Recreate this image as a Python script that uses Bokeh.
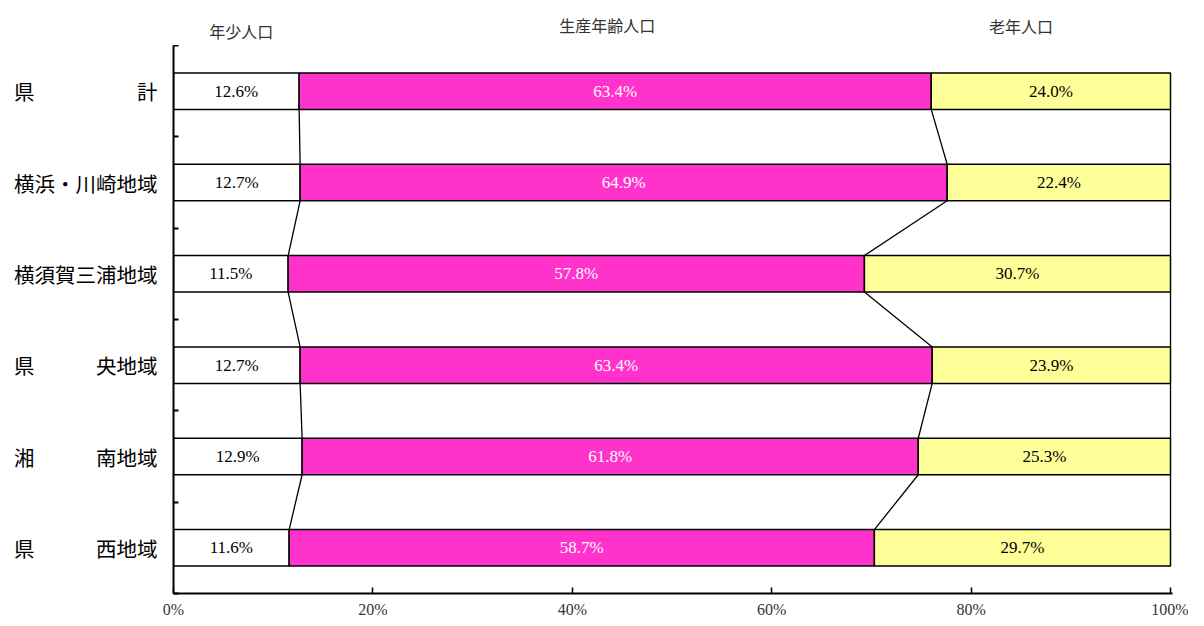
from bokeh.plotting import figure
from bokeh.models import Range1d, FixedTicker, ColumnDataSource
from bokeh.layouts import column
from bokeh.core.properties import value
from bokeh.embed import file_html
from bokeh.resources import INLINE

categories = ["県　　　　　計", "横浜・川崎地域", "横須賀三浦地域",
              "県　　　央地域", "湘　　　南地域", "県　　　西地域"]
series_names = ["年少人口", "生産年齢人口", "老年人口"]
young = [12.6, 12.7, 11.5, 12.7, 12.9, 11.6]
working = [63.4, 64.9, 57.8, 63.4, 61.8, 58.7]
old = [24.0, 22.4, 30.7, 23.9, 25.3, 29.7]
x_ticks = [0, 20, 40, 60, 80, 100]
x_tick_labels = ["0%", "20%", "40%", "60%", "80%", "100%"]

colors = ["#FFFFFF", "#FF33CC", "#FFFF99"]
text_colors = ["#000000", "#FFFFFF", "#000000"]
bar_h = 0.40

W = 1188
LEFT = 173
RIGHT = 16
n = len(categories)
ypos = [n - 1 - i for i in range(n)]
xr = Range1d(0, 100.2)

# header strip with the series names
hdr = figure(width=W, height=45, output_backend="svg", toolbar_location=None,
             x_range=xr, y_range=Range1d(0, 45),
             min_border_left=LEFT, min_border_right=RIGHT, min_border_top=0, min_border_bottom=0)
hdr.outline_line_color = None
hdr.xaxis.visible = False
hdr.yaxis.visible = False
hdr.xgrid.visible = False
hdr.ygrid.visible = False
header_x = [6.8, 43.5, 85.0]
header_y = [15, 21, 20]
hdr.text(x=header_x, y=header_y, text=series_names, text_align="center",
         text_baseline="middle", text_font=value("Noto Sans CJK JP"),
         text_font_size="16px", text_color="#333333")

p = figure(width=W, height=575, output_backend="svg", toolbar_location=None,
           x_range=xr, y_range=Range1d(-0.5, n - 0.5),
           min_border_left=LEFT, min_border_right=RIGHT, min_border_top=0, min_border_bottom=25)
p.outline_line_color = None
p.xgrid.visible = False
p.ygrid.visible = False

series = [young, working, old]
cum_left = [0.0] * n
bounds = []
for k, vals in enumerate(series):
    left = list(cum_left)
    right = [l + v for l, v in zip(left, vals)]
    src = ColumnDataSource(dict(y=ypos, left=left, right=right,
                                mid=[(l + r) / 2 for l, r in zip(left, right)],
                                lab=[f"{v:.1f}%" for v in vals]))
    p.hbar(y="y", left="left", right="right", height=bar_h, source=src,
           fill_color=colors[k], line_color="#000000", line_width=1.5)
    p.text(x="mid", y="y", text="lab", source=src, text_align="center",
           text_baseline="middle", text_color=text_colors[k],
           text_font=value("Liberation Serif"), text_font_size="17px")
    bounds.append(right)
    cum_left = right

# connector lines between consecutive bars
x0s, y0s, x1s, y1s = [], [], [], []
for b in bounds:
    for i in range(n - 1):
        x0s.append(b[i]); y0s.append(ypos[i] - bar_h / 2)
        x1s.append(b[i + 1]); y1s.append(ypos[i + 1] + bar_h / 2)
p.segment(x0=x0s, y0=y0s, x1=x1s, y1=y1s, line_color="#000000", line_width=1.3)

# axes
yax = p.yaxis[0]
yax.ticker = FixedTicker(ticks=ypos, minor_ticks=[i - 0.5 for i in range(n + 1)])
yax.major_label_overrides = {y: c for y, c in zip(ypos, categories)}
yax.major_tick_in = 0
yax.major_tick_out = 0
yax.minor_tick_in = 5
yax.minor_tick_out = 0
yax.minor_tick_line_width = 2
yax.axis_line_width = 2
yax.major_label_standoff = 16
yax.major_label_text_font = "Noto Sans CJK JP"
yax.major_label_text_font_size = "20.5px"
yax.major_label_text_color = "#000000"

xax = p.xaxis[0]
xax.ticker = FixedTicker(ticks=x_ticks, minor_ticks=[])
xax.major_label_overrides = {t: l for t, l in zip(x_ticks, x_tick_labels)}
xax.major_tick_in = 6
xax.major_tick_out = 0
xax.major_tick_line_width = 1.5
xax.axis_line_width = 2
xax.major_label_standoff = 7
xax.major_label_text_font = "Liberation Serif"
xax.major_label_text_font_size = "16px"
xax.major_label_text_color = "#333333"

layout = column(hdr, p, spacing=0)
open("out.html", "w").write(file_html(layout, INLINE))
